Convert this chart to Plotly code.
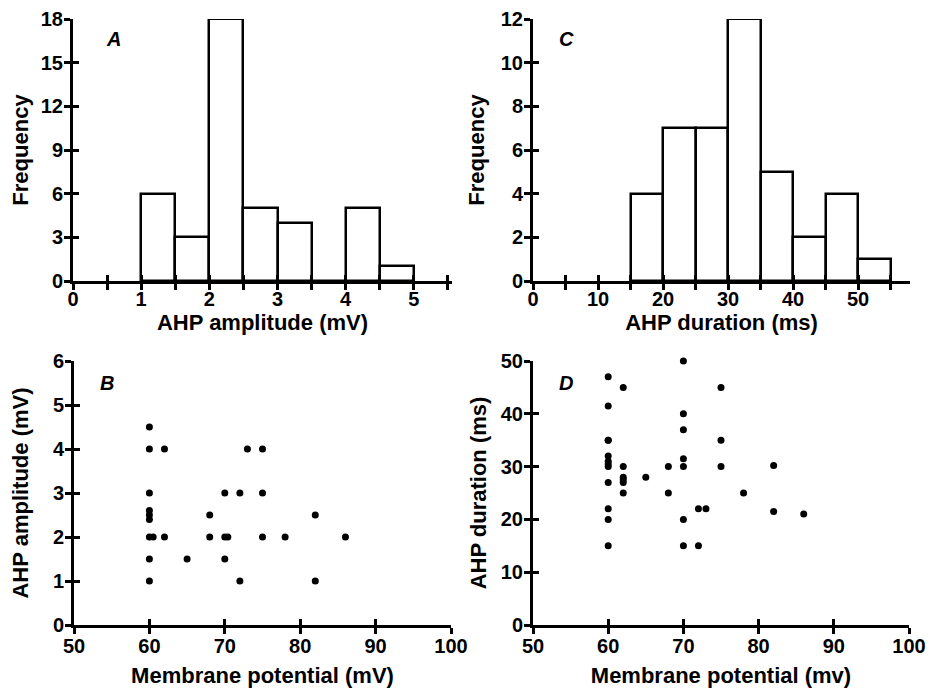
import plotly.graph_objects as go

# ---------------- data ----------------
amp_bin_left = [1.0, 1.5, 2.0, 2.5, 3.0, 3.5, 4.0, 4.5]
amp_counts = [6, 3, 18, 5, 4, 0, 5, 1]
amp_bin_width = 0.5

dur_bin_left = [15, 20, 25, 30, 35, 40, 45, 50]
dur_counts = [4, 7, 7, 12, 5, 2, 4, 1]
dur_bin_width = 5

b_potential = [60, 60, 62, 73, 75, 60, 70, 72, 75, 60, 60, 60, 68, 82,
               60, 60.5, 62, 68, 70, 70.4, 75, 78, 86, 60, 65, 70, 60, 72, 82]
b_amplitude = [4.5, 4, 4, 4, 4, 3, 3, 3, 3, 2.6, 2.5, 2.4, 2.5, 2.5,
               2, 2, 2, 2, 2, 2, 2, 2, 2, 1.5, 1.5, 1.5, 1, 1, 1]

d_potential = [60, 60, 60, 60, 60, 60, 60, 60, 60, 60, 60, 60,
               62, 62, 62, 62, 62, 62, 65, 68, 68,
               70, 70, 70, 70, 70, 70, 70, 72, 72, 73,
               75, 75, 75, 78, 82, 82, 86]
d_duration = [47, 41.5, 35, 35, 32, 31, 30.5, 30, 27, 22, 20, 15,
              45, 30, 28, 27.5, 27, 25, 28, 30, 25,
              50, 40, 37, 31.5, 30, 20, 15, 22, 15, 22,
              45, 35, 30, 25, 30.2, 21.5, 21]

a_xticks = [0, 0.5, 1, 1.5, 2, 2.5, 3, 3.5, 4, 4.5, 5, 5.5]
a_xlabels = ["0", "", "1", "", "2", "", "3", "", "4", "", "5", ""]
a_yticks = [0, 3, 6, 9, 12, 15, 18]
c_xticks = [0, 5, 10, 15, 20, 25, 30, 35, 40, 45, 50, 55]
c_xlabels = ["0", "", "10", "", "20", "", "30", "", "40", "", "50", ""]
c_yticks = [0, 2, 4, 6, 8, 10, 12]
bd_xticks = [50, 60, 70, 80, 90, 100]
b_yticks = [0, 1, 2, 3, 4, 5, 6]
d_yticks = [0, 10, 20, 30, 40, 50]

# page offset (body margin) compensation
OFF = 8
W, H = 936 - OFF, 692 - OFF
FONT = "Liberation Sans, Arial, Helvetica, sans-serif"

def fx(px):
    return (px - OFF) / W

def fy(py):
    return 1 - (py - OFF) / H

fig = go.Figure()

bar_style = dict(marker=dict(color="white", line=dict(color="black", width=2.5)),
                 offset=0, showlegend=False, hoverinfo="x+y")
fig.add_trace(go.Bar(x=amp_bin_left, y=amp_counts, width=amp_bin_width,
                     xaxis="x", yaxis="y", **bar_style))
fig.add_trace(go.Bar(x=dur_bin_left, y=dur_counts, width=dur_bin_width,
                     xaxis="x2", yaxis="y2", **bar_style))
fig.add_trace(go.Scatter(x=b_potential, y=b_amplitude, mode="markers",
                         marker=dict(color="black", size=7), showlegend=False,
                         cliponaxis=False, xaxis="x3", yaxis="y3"))
fig.add_trace(go.Scatter(x=d_potential, y=d_duration, mode="markers",
                         marker=dict(color="black", size=7), showlegend=False,
                         cliponaxis=False, xaxis="x4", yaxis="y4"))
# empty traces for the overlay (inner tick) axes
for i in range(5, 9):
    fig.add_trace(go.Scatter(x=[], y=[], xaxis=f"x{i}", yaxis=f"y{i}",
                             showlegend=False, hoverinfo="skip"))

tickfont = dict(family=FONT, size=20, color="black", weight="bold")
titlefont = dict(family=FONT, size=22, color="black", weight="bold")

def base_axis(domain, rng, tickvals, ticktext=None, title=None, standoff=8, lstand=0):
    d = dict(domain=domain, range=rng, tickmode="array", tickvals=tickvals,
             ticktext=ticktext if ticktext is not None else [str(v) for v in tickvals],
             ticks="outside", ticklen=6, tickwidth=2.5, tickcolor="black",
             showline=True, linewidth=3, linecolor="black", automargin=False,
             showgrid=False, zeroline=False, tickfont=tickfont, fixedrange=True,
             ticklabelstandoff=lstand, ticklabeloverflow="allow")
    if title:
        d["title"] = dict(text=title, font=titlefont, standoff=standoff)
    return d

def inner_axis(rng, tickvals, overlay, anchor):
    return dict(range=rng, tickmode="array", tickvals=tickvals,
                showticklabels=False, ticks="inside", ticklen=6, tickwidth=2.5,
                tickcolor="black", showline=False, showgrid=False, zeroline=False,
                automargin=False, overlaying=overlay, anchor=anchor, fixedrange=True)

TOP = 19  # top edge (px) of the upper panels, keeps the top tick label on the page

panels = {
    1: ([fx(73), fx(452)], [fy(281), fy(TOP)], [0, 5.56], [0, 18],
        a_xticks, a_xlabels, a_yticks, "AHP amplitude (mV)", "Frequency",
        (0, -8, 14, -3)),
    2: ([fx(533), fx(910)], [fy(281), fy(TOP)], [0, 58], [0, 12],
        c_xticks, c_xlabels, c_yticks, "AHP duration (ms)", "Frequency",
        (0, -8, 11, -3)),
    3: ([fx(74), fx(451)], [fy(625), fy(361)], [50, 100], [0, 6],
        bd_xticks, None, b_yticks, "Membrane potential (mV)", "AHP amplitude (mV)",
        (12, -5, 23, -3)),
    4: ([fx(533), fx(909)], [fy(625), fy(361)], [50, 100], [0, 50],
        bd_xticks, None, d_yticks, "Membrane potential (mv)", "AHP duration (ms)",
        (12, -5, 9, -3)),
}

layout = dict(width=W, height=H, margin=dict(l=0, r=0, t=0, b=0),
              plot_bgcolor="white", paper_bgcolor="white", showlegend=False,
              bargap=0)
for i, (xd, yd, xr, yr, xt, xl, yt, xtitle, ytitle, so) in panels.items():
    xs = "" if i == 1 else str(i)
    layout[f"xaxis{xs}"] = dict(base_axis(xd, xr, xt, xl, xtitle, so[0], so[1]), anchor=f"y{xs}")
    layout[f"yaxis{xs}"] = dict(base_axis(yd, yr, yt, None, ytitle, so[2], so[3]), anchor=f"x{xs}")
    j = i + 4
    layout[f"xaxis{j}"] = inner_axis(xr, xt, f"x{xs}", f"y{j}")
    layout[f"yaxis{j}"] = inner_axis(yr, yt, f"y{xs}", f"x{j}")

fig.update_layout(**layout)

# panel letters, placed in each panel's data coordinates
letters = [("A", "x", "y", 0.59, 16.6), ("C", "x2", "y2", 5.1, 11.1),
           ("B", "x3", "y3", 54.4, 5.5), ("D", "x4", "y4", 54.4, 45.8)]
for txt, xr_, yr_, xv, yv in letters:
    fig.add_annotation(text=f"<b><i>{txt}</i></b>", x=xv, y=yv,
                       xref=xr_, yref=yr_, showarrow=False,
                       font=dict(family=FONT, size=20, color="black"))

fig.write_html("out.html")
